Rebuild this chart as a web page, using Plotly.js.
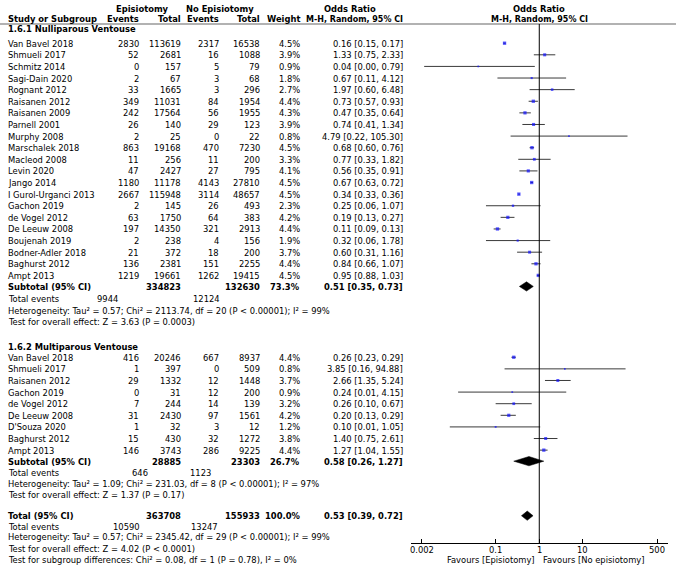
<!DOCTYPE html>
<html>
<head>
<meta charset="utf-8">
<script src="https://cdn.plot.ly/plotly-3.0.1.min.js"></script>
<style>html,body{margin:0;padding:0;background:#fff;}#chart{width:676px;height:566px;}</style>
</head>
<body>
<div id="chart"></div>
<script>
// ---------------- DATA ----------------
const g1Title = "1.6.1 Nulliparous Ventouse";
const g1Studies = ["Van Bavel 2018","Shmueli 2017","Schmitz 2014","Sagi-Dain 2020","Rognant 2012","Raisanen 2012","Raisanen 2009","Parnell 2001","Murphy 2008","Marschalek 2018","Macleod 2008","Levin 2020","Jango 2014","I Gurol-Urganci 2013","Gachon 2019","de Vogel 2012","De Leeuw 2008","Boujenah 2019","Bodner-Adler 2018","Baghurst 2012","Ampt 2013"];
const g1EpiEvents = [2830,52,0,2,33,349,242,26,2,863,11,47,1180,2667,2,63,197,2,21,136,1219];
const g1EpiTotal = [113619,2681,157,67,1665,11031,17564,140,25,19168,256,2427,11178,115948,145,1750,14350,238,372,2381,19661];
const g1NoEvents = [2317,16,5,3,3,84,56,29,0,470,11,27,4143,3114,26,64,321,4,18,151,1262];
const g1NoTotal = [16538,1088,79,68,296,1954,1955,123,22,7230,200,795,27810,48657,493,383,2913,156,200,2255,19415];
const g1Weight = [4.5,3.9,0.9,1.8,2.7,4.4,4.3,3.9,0.8,4.5,3.3,4.1,4.5,4.5,2.3,4.2,4.4,1.9,3.7,4.4,4.5];
const g1OR = [0.16,1.33,0.04,0.67,1.97,0.73,0.47,0.74,4.79,0.68,0.77,0.56,0.67,0.34,0.25,0.19,0.11,0.32,0.60,0.84,0.95];
const g1Lo = [0.15,0.75,0.0023,0.11,0.60,0.57,0.35,0.41,0.22,0.60,0.33,0.35,0.63,0.33,0.06,0.13,0.09,0.06,0.31,0.66,0.88];
const g1Hi = [0.17,2.33,0.79,4.12,6.48,0.93,0.64,1.34,105.30,0.76,1.82,0.91,0.72,0.36,1.07,0.27,0.13,1.78,1.16,1.07,1.03];
const g1Sub = {epiTotal:334823, noTotal:132630, weight:"73.3%", or:0.51, lo:0.35, hi:0.73, epiEvents:9944, noEvents:12124};
const g1Het = "Heterogeneity: Tau² = 0.57; Chi² = 2113.74, df = 20 (P < 0.00001); I² = 99%";
const g1Test = "Test for overall effect: Z = 3.63 (P = 0.0003)";

const g2Title = "1.6.2 Multiparous Ventouse";
const g2Studies = ["Van Bavel 2018","Shmueli 2017","Raisanen 2012","Gachon 2019","de Vogel 2012","De Leeuw 2008","D'Souza 2020","Baghurst 2012","Ampt 2013"];
const g2EpiEvents = [416,1,29,0,7,31,1,15,146];
const g2EpiTotal = [20246,397,1332,31,244,2430,32,430,3743];
const g2NoEvents = [667,0,12,12,14,97,3,32,286];
const g2NoTotal = [8937,509,1448,200,139,1561,12,1272,9225];
const g2Weight = [4.4,0.8,3.7,0.9,3.2,4.2,1.2,3.8,4.4];
const g2OR = [0.26,3.85,2.66,0.24,0.26,0.20,0.10,1.40,1.27];
const g2Lo = [0.23,0.16,1.35,0.0138,0.10,0.13,0.0089,0.75,1.04];
const g2Hi = [0.29,94.88,5.24,4.15,0.67,0.29,1.05,2.61,1.55];
const g2Sub = {epiTotal:28885, noTotal:23303, weight:"26.7%", or:0.58, lo:0.26, hi:1.27, epiEvents:646, noEvents:1123};
const g2Het = "Heterogeneity: Tau² = 1.09; Chi² = 231.03, df = 8 (P < 0.00001); I² = 97%";
const g2Test = "Test for overall effect: Z = 1.37 (P = 0.17)";

const tot = {epiTotal:363708, noTotal:155933, weight:"100.0%", or:0.53, lo:0.39, hi:0.72, epiEvents:10590, noEvents:13247};
const totHet = "Heterogeneity: Tau² = 0.57; Chi² = 2345.42, df = 29 (P < 0.00001); I² = 99%";
const totTest = "Test for overall effect: Z = 4.02 (P < 0.0001)";
const subgroupTest = "Test for subgroup differences: Chi² = 0.08, df = 1 (P = 0.78), I² = 0%";

const tickVals = [0.002, 0.1, 1, 10, 500];
const tickText = ["0.002", "0.1", "1", "10", "500"];
const favLeft = "Favours [Episiotomy]";
const favRight = "Favours [No episiotomy]";

// ---------------- LAYOUT HELPERS ----------------
const W = 676, H = 566;
const FONT = "DejaVu Sans Condensed, DejaVu Sans, sans-serif";
const FS = 9.3;
const ROW0 = 43.2, PITCH = 11.61;           // pixel position of first study row and row pitch
const pxOf = r => ROW0 + PITCH * r;
const py = r => 1 - pxOf(r) / H;
const axisPx = 543;
const headLinePx = 24;
const yTop = -ROW0 / PITCH, yBot = (axisPx - ROW0) / PITCH;

// column anchors (pixels)
const C = {name:7, ev1:140, tot1:182, ev2:220, tot2:261, wt:301, orTxt:404};

const ann = [];
function txt(text, xpx, r, anchor, bold, size) {
  ann.push({text: bold ? "<b>" + text + "</b>" : text, xref:"paper", yref:"paper",
    x: xpx / W, y: py(r), xanchor: anchor, yanchor:"middle", showarrow:false,
    font:{family:FONT, size:size || FS, color:"#000"}, borderpad:0});
}
const f2 = v => v.toFixed(2);
const orStr = (o,l,h) => f2(o) + " [" + f2(l) + ", " + f2(h) + "]";

// header
txt("Episiotomy", 142, -3.03, "center", true);
txt("No Episiotomy", 220, -3.03, "center", true);
txt("Odds Ratio", 350, -3.03, "center", true);
txt("Odds Ratio", 539, -3.03, "center", true);
txt("Study or Subgroup", C.name, -2.1, "left", true);
txt("Events", C.ev1, -2.1, "right", true);
txt("Total", C.tot1, -2.1, "right", true);
txt("Events", C.ev2, -2.1, "right", true);
txt("Total", C.tot2, -2.1, "right", true);
txt("Weight", C.wt, -2.1, "right", true);
txt("M-H, Random, 95% CI", C.orTxt, -2.1, "right", true, 8.9);
txt("M-H, Random, 95% CI", 539, -2.1, "center", true, 8.9);

const ciX = [], ciY = [], mX = [], mY = [], mS = [];
const diamonds = [];

function group(start, title, studies, ee, et, ne, nt, wt, or, lo, hi, sub, het, test, rows, evCenters) {
  txt(title, C.name, rows.head, "left", true);
  studies.forEach((s, i) => {
    const r = start + i;
    txt(s, C.name, r, "left");
    txt(String(ee[i]), C.ev1, r, "right");
    txt(String(et[i]), C.tot1, r, "right");
    txt(String(ne[i]), C.ev2, r, "right");
    txt(String(nt[i]), C.tot2, r, "right");
    txt(wt[i].toFixed(1) + "%", C.wt, r, "right");
    txt(orStr(or[i], lo[i], hi[i]), C.orTxt, r, "right");
    ciX.push(lo[i], hi[i], null); ciY.push(r, r, null);
    mX.push(or[i]); mY.push(r); mS.push(1.3 + 0.45 * wt[i]);
  });
  summary(sub, rows, evCenters, het, test);
}
function summary(sub, rows, evCenters, het, test) {
  const lbl = rows.label || "Subtotal (95% CI)";
  txt(lbl, C.name, rows.sub, "left", true);
  txt(String(sub.epiTotal), C.tot1, rows.sub, "right", true);
  txt(String(sub.noTotal), C.tot2, rows.sub, "right", true);
  txt(sub.weight, C.wt, rows.sub, "right", true);
  txt(orStr(sub.or, sub.lo, sub.hi), C.orTxt, rows.sub, "right", true);
  txt("Total events", C.name, rows.ev, "left");
  txt(String(sub.epiEvents), evCenters[0], rows.ev, "center");
  txt(String(sub.noEvents), evCenters[1], rows.ev, "center");
  txt(het, C.name, rows.het, "left");
  txt(test, C.name, rows.test, "left");
  diamonds.push({or:sub.or, lo:sub.lo, hi:sub.hi, r:rows.sub});
}

group(0, g1Title, g1Studies, g1EpiEvents, g1EpiTotal, g1NoEvents, g1NoTotal, g1Weight, g1OR, g1Lo, g1Hi, g1Sub, g1Het, g1Test,
  {head:-1.24, sub:20.95, ev:21.95, het:23.0, test:24.0}, [107, 206]);
group(27.05, g2Title, g2Studies, g2EpiEvents, g2EpiTotal, g2NoEvents, g2NoTotal, g2Weight, g2OR, g2Lo, g2Hi, g2Sub, g2Het, g2Test,
  {head:26.1, sub:36.0, ev:36.95, het:37.9, test:38.85}, [140, 200]);
summary(tot, {label:"Total (95% CI)", sub:40.7, ev:41.6, het:42.5, test:43.5}, [127, 204], totHet, totTest);
txt(subgroupTest, C.name, 44.45, "left");

// tick labels and favours labels
const tickPx = 549, favPx = 559.5;
tickVals.forEach((v, i) => ann.push({text:tickText[i], xref:"x", yref:"paper", x:Math.log10(v), y:1-tickPx/H,
  xanchor:"center", yanchor:"middle", showarrow:false, font:{family:FONT, size:FS, color:"#000"}, borderpad:0}));
ann.push({text:favLeft, xref:"x", yref:"paper", x:0, y:1-favPx/H, xanchor:"right", yanchor:"middle", xshift:-3,
  showarrow:false, font:{family:FONT, size:FS, color:"#000"}, borderpad:0});
ann.push({text:favRight, xref:"x", yref:"paper", x:0, y:1-favPx/H, xanchor:"left", yanchor:"middle", xshift:3,
  showarrow:false, font:{family:FONT, size:FS, color:"#000"}, borderpad:0});

// ---------------- TRACES ----------------
const traces = [];
traces.push({type:"scatter", mode:"lines", x:ciX, y:ciY, line:{color:"#3a3a3a", width:1}, hoverinfo:"skip", showlegend:false});
traces.push({type:"scatter", mode:"markers", x:mX, y:mY, marker:{symbol:"square", color:"#1010ff", size:mS, line:{width:0}}, showlegend:false});
const DH = 0.4;
diamonds.forEach(d => {
  traces.push({type:"scatter", mode:"lines", x:[d.lo, d.or, d.hi, d.or, d.lo], y:[d.r, d.r - DH, d.r, d.r + DH, d.r],
    fill:"toself", fillcolor:"#000", line:{color:"#000", width:0.5}, showlegend:false, hoverinfo:"skip"});
});

const layout = {
  width:W, height:H, margin:{l:0, r:0, t:0, b:0}, paper_bgcolor:"#fff", plot_bgcolor:"rgba(0,0,0,0)",
  showlegend:false,
  xaxis:{type:"log", range:[-2.94, 2.95], domain:[411/W, 668/W], tickvals:tickVals, showticklabels:false,
    ticks:"inside", ticklen:4, tickcolor:"#000", showline:true, linecolor:"#000", linewidth:1,
    showgrid:false, zeroline:false, fixedrange:true},
  yaxis:{range:[yBot, yTop], domain:[1 - axisPx/H, 1], visible:false, showgrid:false, zeroline:false, fixedrange:true},
  annotations:ann,
  shapes:[
    {type:"line", xref:"paper", yref:"paper", x0:0, x1:1, y0:1-headLinePx/H, y1:1-headLinePx/H, line:{color:"#666", width:1.2}},
    {type:"line", xref:"x", yref:"y", x0:1, x1:1, y0:(headLinePx-ROW0)/PITCH, y1:yBot, line:{color:"#000", width:1}}
  ]
};
Plotly.newPlot("chart", traces, layout, {staticPlot:true, displayModeBar:false});
</script>
</body>
</html>
